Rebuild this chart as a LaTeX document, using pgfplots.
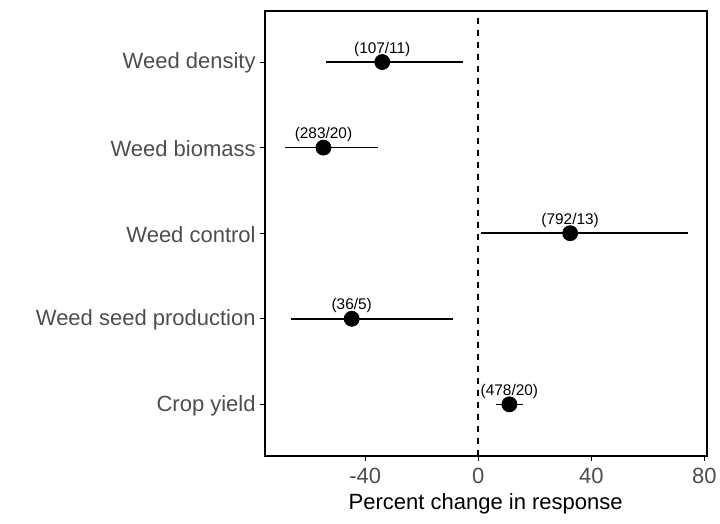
\documentclass[border=0pt]{standalone}
\usepackage{pgfplots}
\pgfplotsset{compat=1.18}
\usepackage{fontspec}
\setmainfont{Liberation Sans}
\definecolor{tickgrey}{HTML}{4D4D4D}
\begin{document}
\begin{tikzpicture}
\useasboundingbox (-132.35pt,-34.15pt) rectangle (227.65pt,227.85pt);
\begin{axis}[
  at={(0,0)}, anchor=south west,
  scale only axis, width=221pt, height=222.5pt,
  xmin=-75.6, xmax=80.8, ymin=0.4, ymax=5.6,
  xtick={-40,0,40,80},
  ytick={1,2,3,4,5},
  yticklabels={Crop yield, Weed seed production, Weed control, Weed biomass, Weed density},
  tick align=outside, tick pos=left,
  major tick length=2.5pt,
  tick style={line width=0.5pt, black},
  axis line style={line width=1pt},
  ticklabel style={font=\fontsize{11}{13}\selectfont, text=tickgrey},
  yticklabel style={xshift=1.5pt, yshift=-0.5pt},
  /pgf/number format/assume math mode=true,
  xlabel={Percent change in response},
  xlabel style={font=\fontsize{11}{13}\selectfont, yshift=2pt},
  clip=false,
]
\addplot[black, line width=0.9pt, dash pattern=on 3pt off 3pt] coordinates {(0,0.4) (0,5.6)};
\addplot[
  only marks, mark=*, mark size=3.75pt, mark options={fill=black, draw=black},
  error bars/.cd, x dir=both, x explicit, error mark=none,
  error bar style={line width=0.8pt, black},
] coordinates {
  (-34.0,5) += (28.7,0) -= (20.0,0)
  (-54.8,4) += (19.2,0) -= (13.6,0)
  (32.5,3) += (41.6,0) -= (31.5,0)
  (-44.8,2) += (35.7,0) -= (21.6,0)
  (11.0,1) += (4.9,0) -= (4.7,0)
};
\addplot[
  only marks, mark=none,
  nodes near coords, point meta=explicit symbolic,
  every node near coord/.append style={anchor=center, yshift=6.4pt, font=\fontsize{7.7}{9}\selectfont, text=black},
] table[meta=lab] {
x y lab
-34.0 5 (107/11)
-54.8 4 (283/20)
32.5 3 (792/13)
-44.8 2 (36/5)
11.0 1 (478/20)
};
\end{axis}
\end{tikzpicture}
\end{document}
